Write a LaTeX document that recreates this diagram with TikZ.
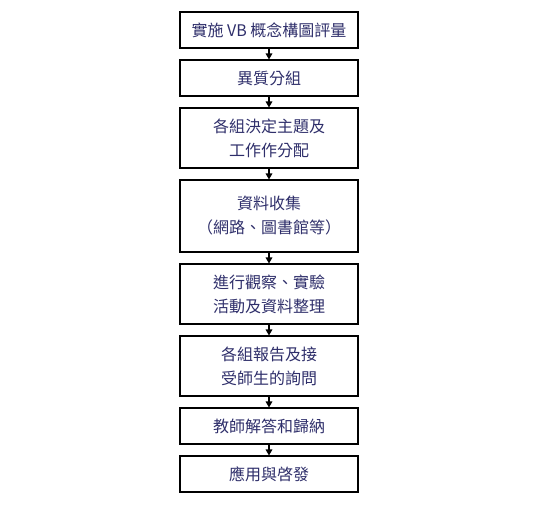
\documentclass[tikz,border=0pt]{standalone}
\usepackage{fontspec}
\setmainfont{Noto Sans CJK TC}
\usepackage{xcolor}
\usetikzlibrary{arrows.meta,positioning}
\definecolor{FlowInk}{HTML}{2E2E6A}
\definecolor{FlowRule}{HTML}{000000}

\begin{document}
\begin{tikzpicture}[
  x=0.75pt,y=-0.75pt,
  stepbox/.style={draw=FlowRule,line width=0.8pt,minimum width=133.5pt,align=center,
    text=FlowInk,font=\fontsize{12pt}{18pt}\selectfont,inner sep=0pt},
  link/.style={draw=FlowRule,line width=0.8pt,-{Triangle[width=5pt,length=4.5pt]}}
]
\useasboundingbox (0,0) rectangle (552,504);
\node[stepbox,minimum height=27pt] (survey) at (269,30) {實施 VB 概念構圖評量};
\node[stepbox,minimum height=27pt,below=8.2pt of survey] (group) {異質分組};
\node[stepbox,minimum height=45pt,below=8.2pt of group] (topic) {各組決定主題及\\工作作分配};
\node[stepbox,minimum height=54pt,below=8.2pt of topic] (collect) {資料收集\\（網路、圖書館等）};
\node[stepbox,minimum height=45pt,below=8.2pt of collect] (observe) {進行觀察、實驗\\活動及資料整理};
\node[stepbox,minimum height=45pt,below=8.2pt of observe] (report) {各組報告及接\\受師生的詢問};
\node[stepbox,minimum height=27pt,below=8.2pt of report] (answer) {教師解答和歸納};
\node[stepbox,minimum height=27pt,below=8.2pt of answer] (apply) {應用與啓發};
\draw[link] (survey) -- (group);
\draw[link] (group) -- (topic);
\draw[link] (topic) -- (collect);
\draw[link] (collect) -- (observe);
\draw[link] (observe) -- (report);
\draw[link] (report) -- (answer);
\draw[link] (answer) -- (apply);
\end{tikzpicture}
\end{document}
